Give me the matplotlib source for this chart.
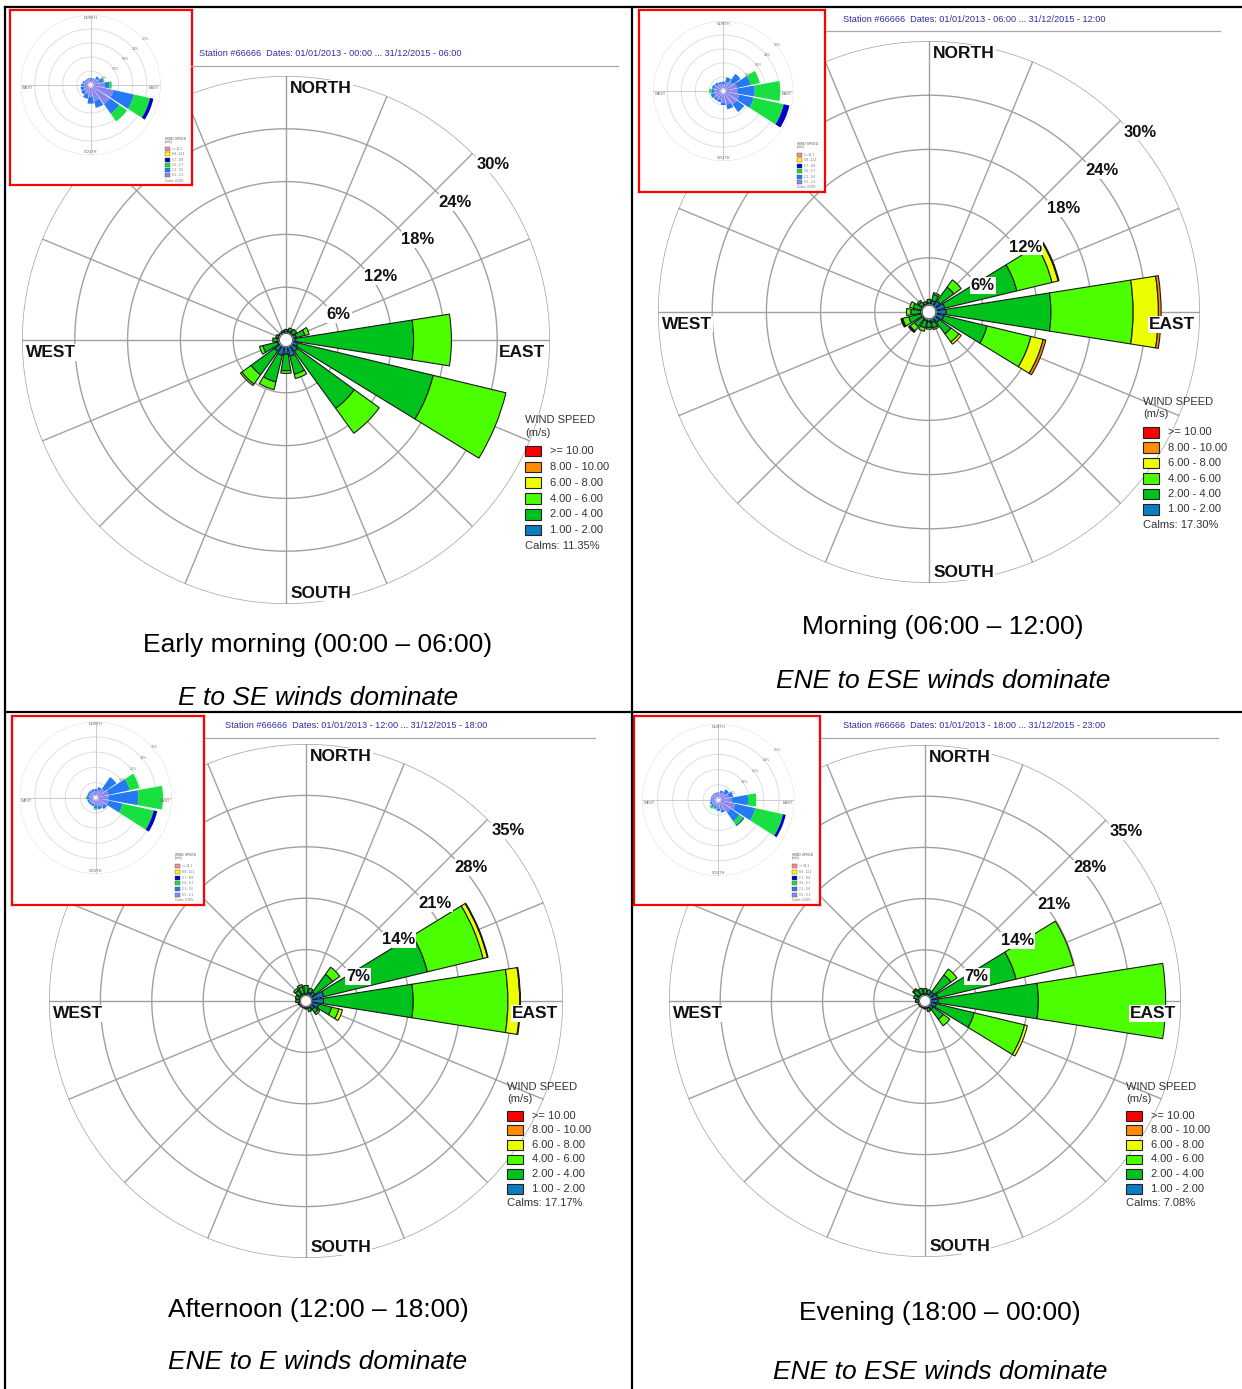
import numpy as np
import matplotlib.pyplot as plt
from matplotlib.patches import Rectangle

plt.rcParams['font.family'] = ['Liberation Sans', 'DejaVu Sans']

W, H = 1242, 1389

directions = ['N', 'NNE', 'NE', 'ENE', 'E', 'ESE', 'SE', 'SSE',
              'S', 'SSW', 'SW', 'WSW', 'W', 'WNW', 'NW', 'NNW']
speed_labels = ['1.00 - 2.00', '2.00 - 4.00', '4.00 - 6.00',
                '6.00 - 8.00', '8.00 - 10.00', '>= 10.00']
speed_colors = ['#0a7cc2', '#00c21c', '#4cff00', '#ebff00', '#ff8c00', '#ff0000']
inset_labels = ['0.5 - 2.1', '2.1 - 3.6', '3.6 - 5.7', '5.7 - 8.8', '8.8 - 11.1', '>= 11.1']
inset_colors = ['#8a86ee', '#2479f5', '#18e040', '#0000c8', '#ffff00', '#ff8a8a']

titles = ['Early morning (00:00 \u2013 06:00)', 'Morning (06:00 \u2013 12:00)',
          'Afternoon (12:00 \u2013 18:00)', 'Evening (18:00 \u2013 00:00)']
subtitles = ['E to SE winds dominate', 'ENE to ESE winds dominate',
             'ENE to E winds dominate', 'ENE to ESE winds dominate']
station_dates = ['Station #66666  Dates: 01/01/2013 - 00:00 ... 31/12/2015 - 06:00',
                 'Station #66666  Dates: 01/01/2013 - 06:00 ... 31/12/2015 - 12:00',
                 'Station #66666  Dates: 01/01/2013 - 12:00 ... 31/12/2015 - 18:00',
                 'Station #66666  Dates: 01/01/2013 - 18:00 ... 31/12/2015 - 23:00']
calms = ['11.35', '17.30', '17.17', '7.08']
ring_steps = [6, 6, 7, 7]

# cumulative frequency (%) reached by each speed class, per direction N..NNW
early_rose = [
    [0.9, 1.2], [1.0, 1.4], [0.9, 1.5], [1.2, 2.2, 2.7],
    [1.1, 14.5, 18.8], [1.4, 17.2, 25.7], [1.6, 9.6, 13.1], [1.9, 4.0, 4.5],
    [1.6, 3.5, 3.8], [1.8, 4.9, 5.8], [1.6, 4.9, 6.2, 6.4], [1.0, 2.7, 3.1],
    [0.9, 1.5], [0.9, 1.2], [0.8, 1.0], [0.9, 1.1],
]
morning_rose = [
    [1.0, 1.4], [1.3, 2.0, 2.2], [1.5, 3.4, 4.4], [1.8, 10.0, 14.0, 14.7, 14.8],
    [1.9, 13.5, 22.6, 25.4, 25.7], [1.7, 6.6, 11.6, 13.0, 13.3], [1.4, 3.0, 4.1, 4.4], [1.2, 1.8, 2.0],
    [1.1, 1.7, 1.9], [1.0, 1.8, 2.2], [0.9, 2.0, 2.6, 2.7, 2.8], [0.9, 2.3, 3.0, 3.1, 3.2],
    [0.9, 2.0, 2.5], [0.9, 1.8, 2.2], [0.9, 1.4, 1.6], [0.9, 1.2],
]
afternoon_rose = [
    [1.0, 2.1], [1.2, 1.8], [1.5, 4.5, 5.7], [2.5, 17.0, 24.8, 25.4, 25.5],
    [2.4, 14.6, 27.5, 29.1, 29.2], [1.8, 3.6, 4.6, 5.1], [1.4, 2.0, 2.3], [1.0, 1.5],
    [0.9, 1.1], [0.8, 1.0], [0.8, 1.0], [0.9, 1.1],
    [0.9, 1.4], [0.9, 1.5], [1.0, 1.8, 2.1], [1.0, 2.0, 2.3],
]
evening_rose = [
    [1.0, 1.7], [1.0, 1.6], [1.5, 4.4, 5.4], [1.8, 12.8, 20.9],
    [1.8, 15.5, 32.9], [1.6, 6.9, 14.0, 14.4], [1.4, 3.1, 4.2], [1.0, 1.5],
    [0.9, 1.1], [0.8, 1.0], [0.8, 1.0], [0.8, 1.0],
    [0.9, 1.3], [0.9, 1.6], [1.0, 1.9, 2.1], [1.0, 1.8],
]

# the small full-day roses in the red boxes
early_inset = [
    [2.5, 3.0], [2.5, 3.0], [3.5, 4.5], [4.0, 5.5, 6.0], [6.0, 8.0, 9.0],
    [10.0, 19.0, 26.0, 27.5], [10.0, 15.0, 19.0], [7.0, 10.0], [5.0, 8.0],
    [4.0, 6.0], [3.5, 5.0], [3.0, 4.5], [3.0, 4.0], [3.0, 3.5], [2.5, 3.0], [2.5, 3.0],
]
morning_inset = [
    [3.0, 4.0], [4.0, 6.0], [5.0, 9.0], [6.0, 12.0, 16.0], [6.0, 13.5, 24.4],
    [7.0, 13.3, 26.5, 29.0], [7.0, 11.0], [6.0, 8.0], [5.0, 6.0], [4.0, 5.0],
    [4.0, 5.0], [4.0, 5.5], [4.0, 5.0, 6.0], [4.0, 5.0], [3.5, 4.5], [3.0, 4.0],
]
afternoon_inset = [
    [3.0, 4.0], [3.5, 5.0], [5.0, 11.6], [6.0, 16.0, 20.5], [6.0, 19.6, 31.0],
    [6.0, 12.7, 27.3, 29.0], [5.0, 6.4], [4.0, 5.5], [3.5, 5.0, 5.5], [3.0, 4.0],
    [3.0, 4.0], [3.0, 4.0], [3.0, 4.0, 4.5], [3.0, 4.0], [3.0, 4.0], [3.0, 4.0],
]
evening_inset = [
    [3.0, 3.5], [3.5, 4.5], [4.0, 6.0], [5.0, 7.0], [6.0, 13.7, 17.5],
    [8.0, 17.4, 30.5, 31.8], [7.0, 12.0, 14.2, 14.6], [5.0, 6.0], [4.0, 5.0], [3.0, 4.0, 4.5],
    [3.0, 4.0, 5.0], [3.0, 4.0], [3.0, 3.5], [3.0, 3.5], [3.0, 3.5], [3.0, 3.5],
]

roses = [early_rose, morning_rose, afternoon_rose, evening_rose]
insets = [early_inset, morning_inset, afternoon_inset, evening_inset]

# layout in pixels
rose_centers = [(286, 340), (929, 312), (306, 1001), (925, 1001)]
rose_radii = [264, 271, 257, 256]
inset_frames = [(10, 10, 182, 175), (639, 10, 186, 182), (12, 716, 192, 189), (634, 716, 186, 189)]
inset_centers = [(90.7, 85), (723.3, 91), (95.7, 797.7), (718.3, 800)]
inset_radii = [70, 70, 76, 76]
legend_pos = [(525, 420, 15.8), (1143, 402, 15.4), (507, 1087, 14.6), (1126, 1087, 14.6)]
header_pos = [(199, 54, 191, 618, 66), (843, 20, 826, 1220, 31),
              (225, 726, 205, 595, 738), (843, 726, 821, 1218, 738)]
caption_pos = [(318, 645, 698), (943, 627, 681), (318, 1310, 1362), (940, 1313, 1372)]

fig = plt.figure(figsize=(W / 100, H / 100), dpi=100)
fig.patch.set_facecolor('white')


def px_rect(x, y, w, h):
    return [x / W, 1 - (y + h) / H, w / W, h / H]


def polar_at(cx, cy, rpx, rmax):
    ax = fig.add_axes(px_rect(cx - rpx, cy - rpx, 2 * rpx, 2 * rpx), projection='polar')
    ax.set_theta_zero_location('N')
    ax.set_theta_direction(-1)
    ax.set_ylim(0, rmax)
    ax.set_facecolor('none')
    ax.grid(False)
    ax.set_xticks([])
    ax.set_yticks([])
    ax.spines['polar'].set_visible(False)
    return ax


def draw_bars(ax, rose, colors, hole, width_frac, edge, lw):
    width = np.deg2rad(22.5) * width_frac
    for i, radii in enumerate(rose):
        theta = np.deg2rad(22.5 * i)
        prev = hole
        for j, r in enumerate(radii):
            ax.bar(theta, r - prev, width=width, bottom=prev, color=colors[j],
                   edgecolor=edge, linewidth=lw, zorder=3)
            prev = r


def draw_hole(ax, hole, edge, lw):
    th = np.linspace(0, 2 * np.pi, 200)
    ax.fill(th, np.full_like(th, hole), color='white', zorder=4)
    ax.plot(th, np.full_like(th, hole), color=edge, lw=lw, zorder=4)


th = np.linspace(0, 2 * np.pi, 400)

# main roses
for k in range(4):
    cx, cy = rose_centers[k]
    step = ring_steps[k]
    rmax = 5 * step
    ax = polar_at(cx, cy, rose_radii[k], rmax)
    for m in range(1, 6):
        ax.plot(th, np.full_like(th, m * step), color='#a0a0a0', lw=1.0, zorder=1)
    for i in range(16):
        a = np.deg2rad(22.5 * i)
        ax.plot([a, a], [0, rmax], color='#a0a0a0', lw=1.0, zorder=1)
    draw_bars(ax, roses[k], speed_colors, 0.75, 0.8, '#1a1a1a', 0.8)
    draw_hole(ax, 0.75, '#606060', 0.8)
    for m in range(1, 6):
        ax.annotate(f'{m * step}%', xy=(np.pi / 4, m * step), xytext=(2.5, -3),
                    textcoords='offset points', ha='left', va='top', fontsize=12,
                    fontweight='bold', color='#111111', annotation_clip=False, zorder=6,
                    bbox=dict(fc='white', ec='none', pad=0.6))
    for name, ang, off, ha, va in [('NORTH', 0, (3, -3.5), 'left', 'top'),
                                   ('EAST', np.pi / 2, (-3.5, -3.5), 'right', 'top'),
                                   ('SOUTH', np.pi, (3, 2.5), 'left', 'bottom'),
                                   ('WEST', 3 * np.pi / 2, (3, -3.5), 'left', 'top')]:
        ax.annotate(name, xy=(ang, rmax), xytext=off, textcoords='offset points',
                    ha=ha, va=va, fontsize=12.5, fontweight='bold', color='#111111',
                    annotation_clip=False, zorder=6,
                    bbox=dict(fc='white', ec='none', pad=0.6))

# inset roses with red frames
for k in range(4):
    fx, fy, fw, fh = inset_frames[k]
    fa = fig.add_axes(px_rect(fx, fy, fw, fh))
    fa.set_xlim(0, fw)
    fa.set_ylim(fh, 0)
    fa.set_xticks([])
    fa.set_yticks([])
    fa.set_facecolor('white')
    for s in fa.spines.values():
        s.set_edgecolor('#ff0000')
        s.set_linewidth(1.6)
    lx, ly = 0.85 * fw, 0.735 * fh
    fa.text(lx, ly, 'WIND SPEED', fontsize=2.4, color='#555555', va='center')
    fa.text(lx, ly + 3.5, '(m/s)', fontsize=2.4, color='#555555', va='center')
    rs = 0.03 * fh
    for j in range(6):
        yy = ly + 0.06 * fh + j * rs
        fa.add_patch(Rectangle((lx, yy - 2), 5, 4, fc=inset_colors[5 - j], ec='#555555', lw=0.3))
        fa.text(lx + 7, yy, inset_labels[5 - j], fontsize=2.2, color='#666666', va='center')
    fa.text(lx, yy + rs, 'Calms: 0.00%', fontsize=2.2, color='#666666', va='center')

    icx, icy = inset_centers[k]
    step = ring_steps[k]
    rmax = 5 * step
    ia = polar_at(icx, icy, inset_radii[k], rmax)
    for m in range(1, 6):
        ia.plot(th, np.full_like(th, m * step), color='#dadada', lw=0.6, zorder=1)
    for a in [0, np.pi / 2, np.pi, 3 * np.pi / 2]:
        ia.plot([a, a], [0, rmax], color='#c4c4c4', lw=0.6, zorder=1)
    draw_bars(ia, insets[k], inset_colors, 0.9, 0.9, 'none', 0)
    draw_hole(ia, 0.9, '#888888', 0.3)
    for m in range(1, 6):
        ia.annotate(f'{m * step}%', xy=(np.pi / 4, m * step), xytext=(1, -1),
                    textcoords='offset points', ha='left', va='top', fontsize=2.6,
                    color='#777777', annotation_clip=False, zorder=6)
    for name, ang, off, ha, va in [('NORTH', 0, (0, -0.5), 'center', 'top'),
                                   ('EAST', np.pi / 2, (-1, -1), 'right', 'top'),
                                   ('SOUTH', np.pi, (0, 0.5), 'center', 'bottom'),
                                   ('WEST', 3 * np.pi / 2, (1, -1), 'left', 'top')]:
        ia.annotate(name, xy=(ang, rmax), xytext=off, textcoords='offset points',
                    ha=ha, va=va, fontsize=2.8, color='#666666',
                    annotation_clip=False, zorder=6)

# table rules, headers, legends and captions
ov = fig.add_axes([0, 0, 1, 1])
ov.set_xlim(0, W)
ov.set_ylim(H, 0)
ov.axis('off')

ov.plot([5, W], [7, 7], color='black', lw=1.6)
ov.plot([5, W], [712, 712], color='black', lw=1.6)
ov.plot([5, 5], [7, H], color='black', lw=1.6)
ov.plot([632, 632], [7, H], color='black', lw=1.6)

for k in range(4):
    hx, hy, x1, x2, yl = header_pos[k]
    ov.text(hx, hy, station_dates[k], fontsize=6.6, color='#2e2e9e', va='center')
    ov.plot([x1, x2], [yl, yl], color='#a8a8a8', lw=0.9)

    x, y, st = legend_pos[k]
    ov.text(x, y, 'WIND SPEED', fontsize=8, color='#333333', va='center')
    ov.text(x, y + 0.8 * st, '(m/s)', fontsize=8, color='#333333', va='center')
    for j in range(6):
        yy = y + 2 * st - 0.5 + j * st
        ov.add_patch(Rectangle((x, yy - 0.34 * st), 16, 0.68 * st,
                               fc=speed_colors[5 - j], ec='#222222', lw=0.8))
        ov.text(x + 25, yy, speed_labels[5 - j], fontsize=8, color='#333333', va='center')
    ov.text(x, yy + st, f'Calms: {calms[k]}%', fontsize=8, color='#333333', va='center')

    tx, ty1, ty2 = caption_pos[k]
    ov.text(tx, ty1, titles[k], fontsize=19, ha='center', va='center', color='black')
    ov.text(tx, ty2, subtitles[k], fontsize=19, style='italic', ha='center', va='center',
            color='black')

fig.savefig('out.png', dpi=100)
